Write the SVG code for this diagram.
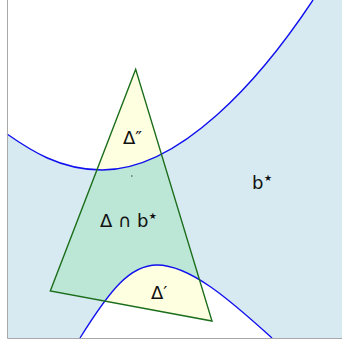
<svg xmlns="http://www.w3.org/2000/svg" width="342" height="345" viewBox="0 0 342 345">
<style>
.lbl{font-family:"DejaVu Sans","Liberation Sans",sans-serif;font-size:18px;fill:#111}
.star{font-size:9px}
.curve{fill:none;stroke:#1010ee;stroke-width:1.4}
.frame{stroke:#a8a8a8;stroke-width:1;fill:none}
</style>
<defs>
<path id="bstar" d="M7,134 C30,150 60,170 102,170 C180,170 260,80 313,0 L342,0 L342,338 L272,338 C230,300 190,265 157,265 C130,265 110,290 80,338 L7,338 Z"/>
<clipPath id="clipB"><use href="#bstar"/></clipPath>
<path id="tri" d="M135.7,69.3 L50.3,291 L212,321 Z"/>
</defs>
<rect width="342" height="345" fill="#ffffff"/>
<g id="region-bstar"><use href="#bstar" fill="#d7eaf1"/></g>
<g id="triangle">
<use href="#tri" fill="#fefee0"/>
<use href="#tri" fill="#bce6d6" clip-path="url(#clipB)"/>
</g>
<g id="connectors">
<path class="curve" d="M7,134 C30,150 60,170 102,170 C180,170 260,80 313,0"/>
<path class="curve" d="M80,338 C110,290 130,265 157,265 C190,265 230,300 272,338"/>
</g>
<g id="triangle-outline"><use href="#tri" fill="none" stroke="#1b6e1b" stroke-width="1.4" stroke-linejoin="miter"/></g>
<g id="frame">
<path class="frame" d="M7.5,0 V338.5 H342"/>
</g>
<rect x="131" y="175.5" width="1.5" height="1" fill="#333"/>
<g id="label-dpp"><text class="lbl" x="123" y="144">Δ″</text></g>
<g id="label-inter"><text class="lbl" x="100" y="227">Δ ∩ b<tspan class="star" dx="0.5" dy="-8">★</tspan></text></g>
<g id="label-bstar"><text class="lbl" x="252" y="189">b<tspan class="star" dx="0.5" dy="-8">★</tspan></text></g>
<g id="label-dp"><text class="lbl" x="151" y="299">Δ′</text></g>
</svg>
